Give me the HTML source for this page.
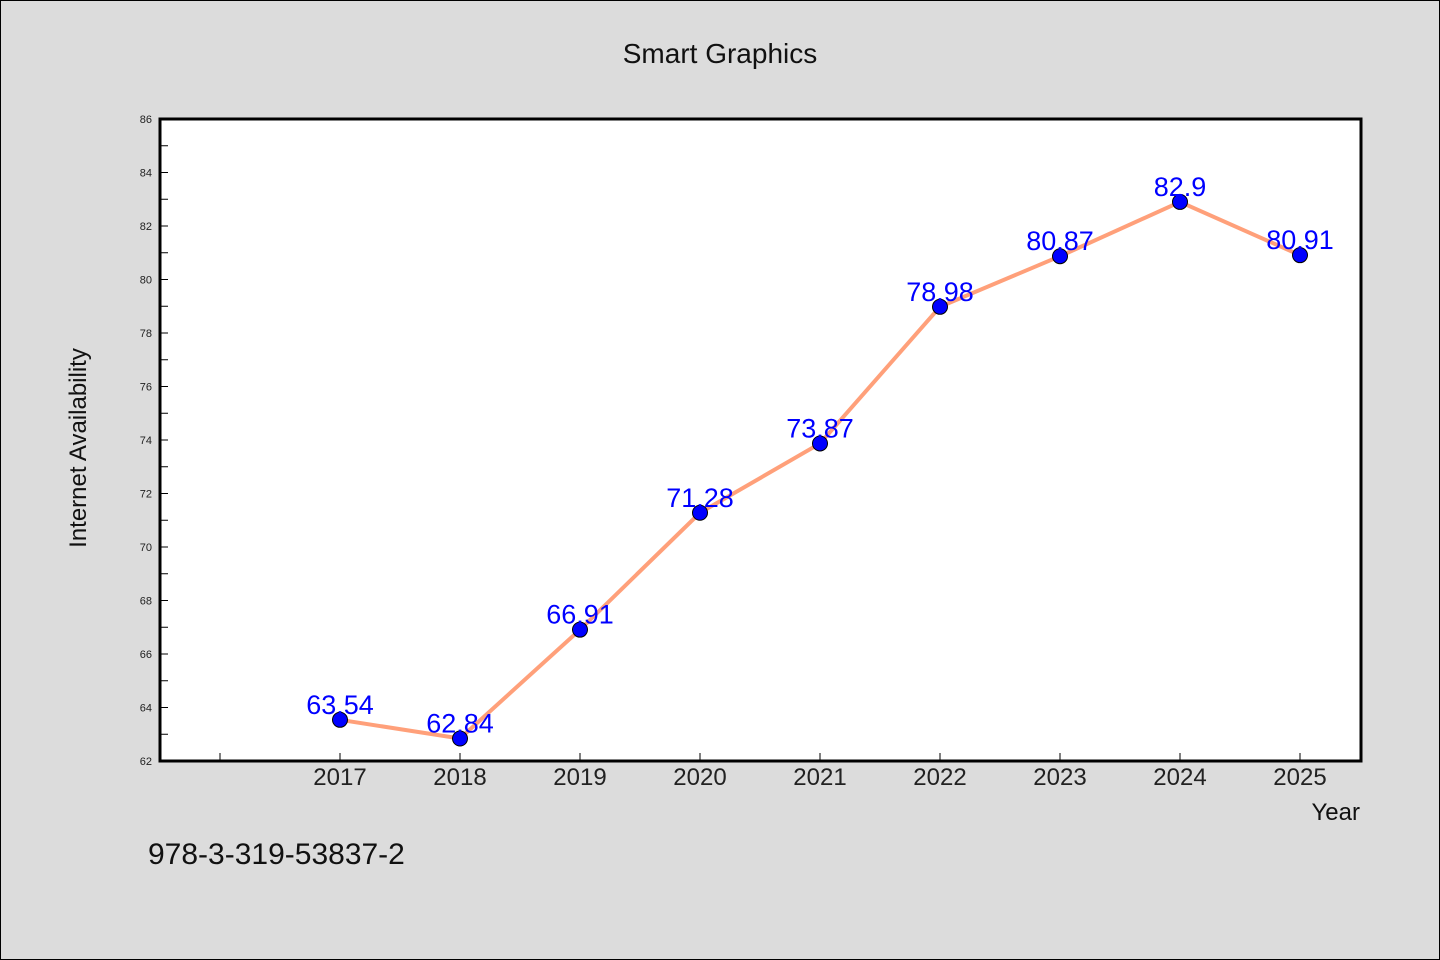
<!DOCTYPE html>
<html><head><meta charset="utf-8"><style>
body{margin:0;background:#dcdcdc}
svg{display:block;font-family:"WenQuanYi Zen Hei","Liberation Sans",sans-serif}
</style></head><body>
<svg id="c" width="1440" height="960">
<rect x="0.5" y="0.5" width="1439" height="959" fill="#dcdcdc" stroke="#000"/>
<text x="720" y="63" font-size="28" text-anchor="middle" fill="#111">Smart Graphics</text>
<rect x="160" y="119" width="1201" height="642" fill="#fff"/>
<g id="ticks"></g>
<g id="marks"></g>
<rect x="160" y="119" width="1201" height="642" fill="none" stroke="#000" stroke-width="3"/>
<text x="86" y="448" font-size="24" text-anchor="middle" fill="#111" transform="rotate(-90 86 448)">Internet Availability</text>
<text x="1360" y="820" font-size="24" text-anchor="end" fill="#111">Year</text>
<text x="148" y="864" font-size="30" fill="#111">978-3-319-53837-2</text>
</svg>
<script>
const categories=["2017","2018","2019","2020","2021","2022","2023","2024","2025"];
const values=[63.54,62.84,66.91,71.28,73.87,78.98,80.87,82.9,80.91];
const yTickLabels=["62","64","66","68","70","72","74","76","78","80","82","84","86"];
const NS="http://www.w3.org/2000/svg";
const yMin=62,yMax=86;
function y(v){return 761-(v-yMin)/(yMax-yMin)*642;}
function x(i){return 340+i*120;}
function mk(t,a,p){const e=document.createElementNS(NS,t);for(const k in a)e.setAttribute(k,a[k]);p.appendChild(e);return e;}
const tk=document.getElementById('ticks'),mg=document.getElementById('marks');
for(let v=yMin;v<=yMax;v++){
 const l=mk('line',{x1:160,x2:168,y1:y(v),y2:y(v),stroke:'#000','stroke-width':1},tk);
 
 
}
yTickLabels.forEach(s=>{
 const t=mk('text',{x:152,y:y(+s)+4,'font-size':11,'text-anchor':'end',fill:'#222'},tk);t.textContent=s;
 
 
});
for(let i=-1;i<categories.length;i++){
 const l=mk('line',{x1:x(i),x2:x(i),y1:761,y2:753,stroke:'#000','stroke-width':1},tk);
 
 
}
categories.forEach((c,i)=>{
 const t=mk('text',{x:x(i),y:785,'font-size':24,'text-anchor':'middle',fill:'#222'},tk);t.textContent=c;
 
 
});
const pl=mk('polyline',{points:values.map((v,i)=>x(i)+','+y(v)).join(' '),fill:'none',stroke:'#ffa07a','stroke-width':4},mg);


values.forEach((v,i)=>{
 const c=mk('circle',{cx:x(i),cy:y(v),r:7.5,fill:'#0000ff',stroke:'#000','stroke-width':1},mg);
 
 
 const t=mk('text',{x:x(i),y:y(v)-6,'font-size':27,'text-anchor':'middle',fill:'#0000ff'},mg);t.textContent=String(v);
 
 
});
</script>
</body></html>
